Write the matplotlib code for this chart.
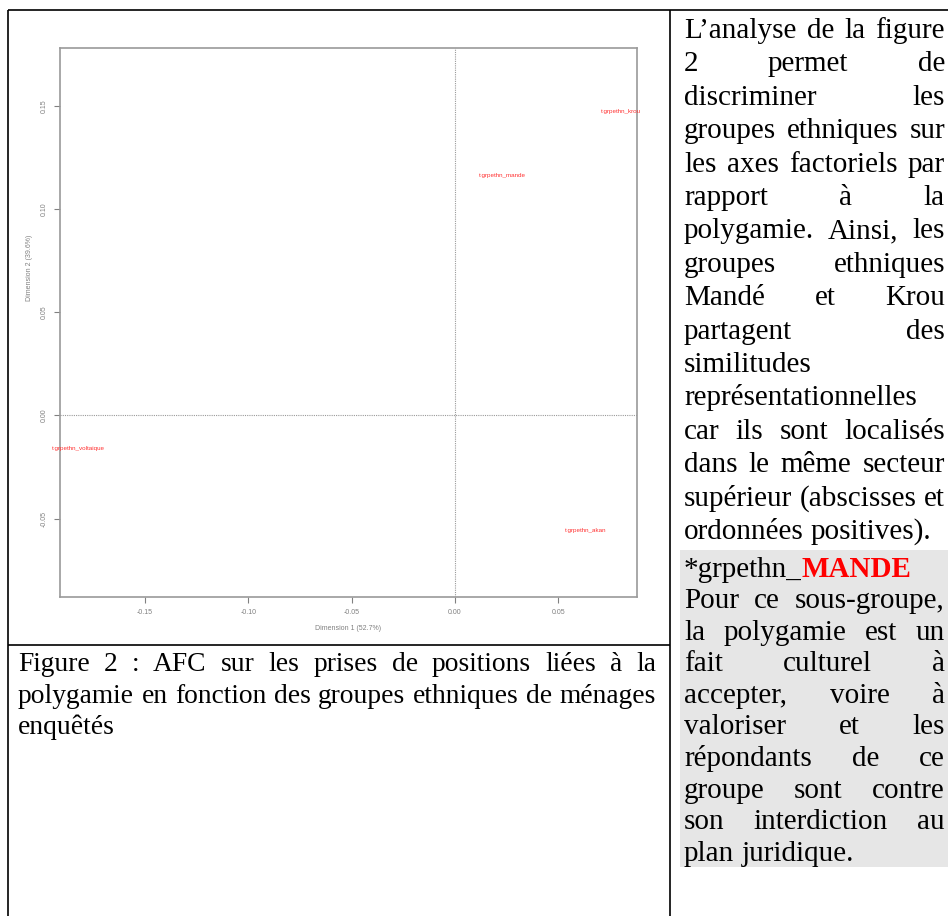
import matplotlib
matplotlib.use("Agg")
import matplotlib.pyplot as plt
from matplotlib.patches import Rectangle

# data
groups = ["t.grpethn_akan", "t.grpethn_krou", "t.grpethn_mande", "t.grpethn_voltaique"]
dim1 = [0.063, 0.080, 0.023, -0.182]
dim2 = [-0.056, 0.147, 0.116, -0.016]
xticks = [-0.15, -0.10, -0.05, 0.00, 0.05]
yticks = [-0.05, 0.00, 0.05, 0.10, 0.15]
xlab = "Dimension 1 (52.7%)"
ylab = "Dimension 2 (39.6%)"

caption = [
    ("Figure 2 : AFC sur les prises de positions liées à la", True),
    ("polygamie en fonction des groupes ethniques de ménages", True),
    ("enquêtés", False),
]
para1 = [
    ("L’analyse de la figure", True),
    ("2 permet de", True),
    ("discriminer les", True),
    ("groupes ethniques sur", True),
    ("les axes factoriels par", True),
    ("rapport à la", True),
    ("polygamie. Ainsi, les", True),
    ("groupes ethniques", True),
    ("Mandé et Krou", True),
    ("partagent des", True),
    ("similitudes", False),
    ("représentationnelles", False),
    ("car ils sont localisés", True),
    ("dans le même secteur", True),
    ("supérieur (abscisses et", True),
    ("ordonnées positives).", False),
]
para2 = [
    ("Pour ce sous-groupe,", True),
    ("la polygamie est un", True),
    ("fait culturel à", True),
    ("accepter, voire à", True),
    ("valoriser et les", True),
    ("répondants de ce", True),
    ("groupe sont contre", True),
    ("son interdiction au", True),
    ("plan juridique.", False),
]

SERIF = "Liberation Serif"
W, H = 948, 916
fig = plt.figure(figsize=(W / 100, H / 100), dpi=100)
renderer = fig.canvas.get_renderer()

# page layer in pixel units
page = fig.add_axes([0, 0, 1, 1])
page.set_xlim(0, W)
page.set_ylim(H, 0)
page.axis("off")

# table borders and grey highlight
page.add_patch(Rectangle((680, 550), W - 680, 317, color="#e6e6e6", lw=0))
kw = dict(color="black", lw=1.2, solid_capstyle="butt")
page.plot([8, W], [10, 10], **kw)
page.plot([8, 8], [10, H], **kw)
page.plot([670, 670], [10, H], **kw)
page.plot([8, 670], [645, 645], **kw)


def put_line(text, y, x0, x1, justify, size):
    words = text.split(" ")
    tx = [page.text(0, y, w, fontsize=size, family=SERIF, va="baseline", ha="left")
          for w in words]
    widths = [t.get_window_extent(renderer).width for t in tx]
    if justify and len(tx) > 1:
        gap = (x1 - x0 - sum(widths)) / (len(tx) - 1)
    else:
        gap = 0.25 * size * 100 / 72
    x = x0
    for t, w in zip(tx, widths):
        t.set_x(x)
        x += w + gap


size = 21
for i, (line, just) in enumerate(para1):
    put_line(line, 38 + i * 33.4, 684, 945, just, size)

# highlighted heading
t1 = page.text(684, 577, "*grpethn_", fontsize=size, family=SERIF, va="baseline")
w1 = t1.get_window_extent(renderer).width
page.text(684 + w1, 577, "MANDE", fontsize=size, family=SERIF, va="baseline",
          color="#ff0000", fontweight="bold")
for i, (line, just) in enumerate(para2):
    put_line(line, 608 + i * 31.6, 684, 945, just, size)

for i, (line, just) in enumerate(caption):
    put_line(line, 671 + i * 31.6, 18, 656, just, 19.8)

# the CA plot
ax = fig.add_axes([60 / W, 1 - 597 / H, 577 / W, 549 / H])
ax.set_xlim(-0.191, 0.088)
ax.set_ylim(-0.088, 0.178)
ax.axhline(0, color="#9a9a9a", lw=0.8, ls=(0, (1, 1)))
ax.axvline(0, color="#9a9a9a", lw=0.8, ls=(0, (1, 1)))
for g, x, y in zip(groups, dim1, dim2):
    ax.text(x, y, g, color="#ff3030", fontsize=4.5, ha="center", va="center",
            family="Liberation Sans", clip_on=False)
ax.set_xticks(xticks)
ax.set_xticklabels([f"{v:.2f}" for v in xticks])
ax.set_yticks(yticks)
ax.set_yticklabels([f"{v:.2f}" for v in yticks], rotation=90, va="center")
ax.tick_params(colors="#808080", labelsize=5, length=4, width=0.8, pad=5)
for lbl in ax.get_xticklabels() + ax.get_yticklabels():
    lbl.set_family("Liberation Sans")
for s in ax.spines.values():
    s.set_color("#9a9a9a")
    s.set_linewidth(1.2)
ax.set_xlabel(xlab, fontsize=5, color="#808080", family="Liberation Sans", labelpad=6)
ax.set_ylabel(ylab, fontsize=5, color="#808080", family="Liberation Sans", labelpad=6)
ax.yaxis.set_label_coords(-0.047, 0.6)

fig.savefig("out.png", dpi=100)
